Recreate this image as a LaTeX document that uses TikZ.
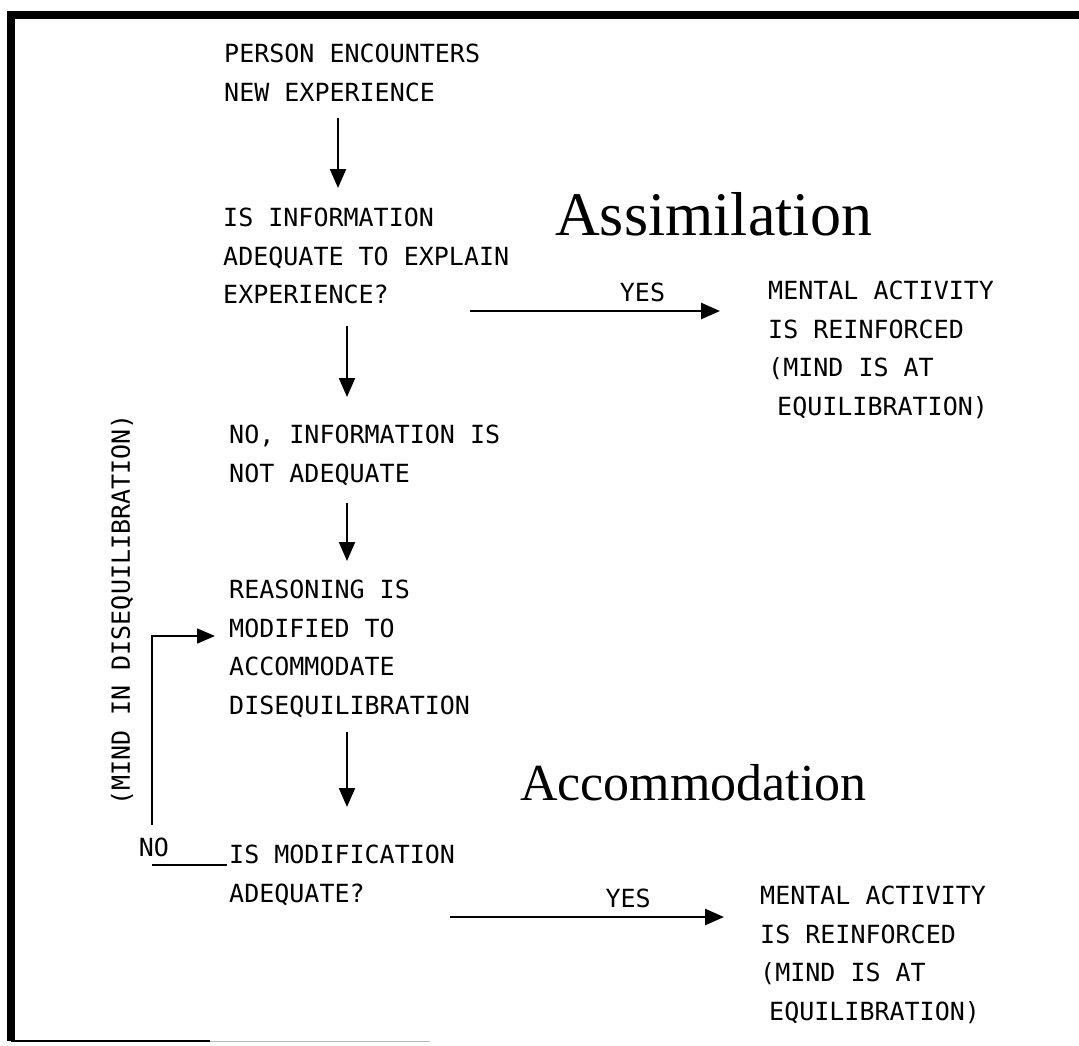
\documentclass[tikz,border=0pt]{standalone}
\usepackage{fontspec}
\usepackage{tikz}
\usetikzlibrary{calc}
\usetikzlibrary{arrows.meta, positioning}
\newfontfamily\typer{DejaVu Sans Mono}
\newfontfamily\heading{Liberation Serif}

\begin{document}
\begin{tikzpicture}[x=1pt,y=-1pt,
    txt/.style={font=\typer\fontsize{25}{38.5}\selectfont, align=left, anchor=north west, inner sep=0pt},
    big/.style={font=\heading\fontsize{62}{64}\selectfont, anchor=base west, inner sep=0pt},
    yes/.style={font=\typer\fontsize{25}{30}\selectfont, anchor=south, inner sep=0pt, yshift=8pt},
    arr/.style={-{Triangle[length=19pt,width=16pt]}, line width=2pt},
    arrh/.style={arr, line width=2.6pt},
    thinline/.style={line width=1.4pt}]
  \useasboundingbox (0,0) rectangle (1079,1045);

  % frame
  \draw[line width=8pt, line cap=butt] (1079,15) -- (11,15) -- (11,1041);
  \draw[line width=1.2pt] (11,1041) -- (210,1041);
  \draw[line width=1pt, gray!55] (210,1041) -- (430,1041);

  % main column
  \node[txt] (exp)   at (224,44)  {PERSON ENCOUNTERS\\NEW EXPERIENCE};
  \node[txt] (info)  at (223,208) {IS INFORMATION\\ADEQUATE TO EXPLAIN\\EXPERIENCE?};
  \node[txt] (notad) at (229,425) {NO, INFORMATION IS\\NOT ADEQUATE};
  \node[txt] (reas)  at (229,580) {REASONING IS\\MODIFIED TO\\ACCOMMODATE\\DISEQUILIBRATION};
  \node[txt] (modq)  at (229,845) {IS MODIFICATION\\ADEQUATE?};

  % outcomes
  \node[txt] (ment1) at (768,281) {MENTAL ACTIVITY\\IS REINFORCED\\(MIND IS AT\\\hspace*{9pt}EQUILIBRATION)};
  \node[txt] (ment2) at (760,886) {MENTAL ACTIVITY\\IS REINFORCED\\(MIND IS AT\\\hspace*{9pt}EQUILIBRATION)};

  \node[big] (assim) at (555,235) {Assimilation};
  \node[big, font=\heading\fontsize{52}{54}\selectfont] (accom) at (520,800) {Accommodation};

  \node[txt, anchor=center, rotate=90] (diseq) at (122,610) {(MIND IN DISEQUILIBRATION)};
  \node[txt, anchor=center] (no) at (154,847) {NO};

  % down arrows
  \draw[arr] ($(exp.south west)+(114,16)$)  -- ($(info.north west)+(115,-20)$);
  \draw[arr] ($(info.south west)+(124,22)$) -- ($(notad.north west)+(118,-28)$);
  \draw[arr] ($(notad.south west)+(118,17)$) -- ($(reas.north west)+(118,-19)$);
  \draw[arr] ($(reas.south west)+(118,14)$) -- ($(modq.north west)+(118,-38)$);

  % yes arrows
  \coordinate (y1s) at ($(ment1.north west)+(-298,30)$);
  \coordinate (y1t) at ($(ment1.north west)+(-48,30)$);
  \coordinate (y2s) at ($(ment2.north west)+(-310,31)$);
  \coordinate (y2t) at ($(ment2.north west)+(-36,31)$);
  \draw[arrh] (y1s) -- (y1t) node[yes, pos=0.69] (yes1) {YES};
  \draw[arrh] (y2s) -- (y2t) node[yes, pos=0.65] (yes2) {YES};

  % no loop
  \coordinate (loopL) at ($(modq.north west)+(-77,20)$);
  \coordinate (loopB) at ($(modq.north west)+(-77,-20)$);
  \draw[thinline] ($(modq.north west)+(-2,20)$) -- (loopL);
  \draw[thinline, -{Triangle[length=18pt,width=15pt]}] (loopB) |- ($(reas.north west)+(-14,56)$);
\end{tikzpicture}
\end{document}
